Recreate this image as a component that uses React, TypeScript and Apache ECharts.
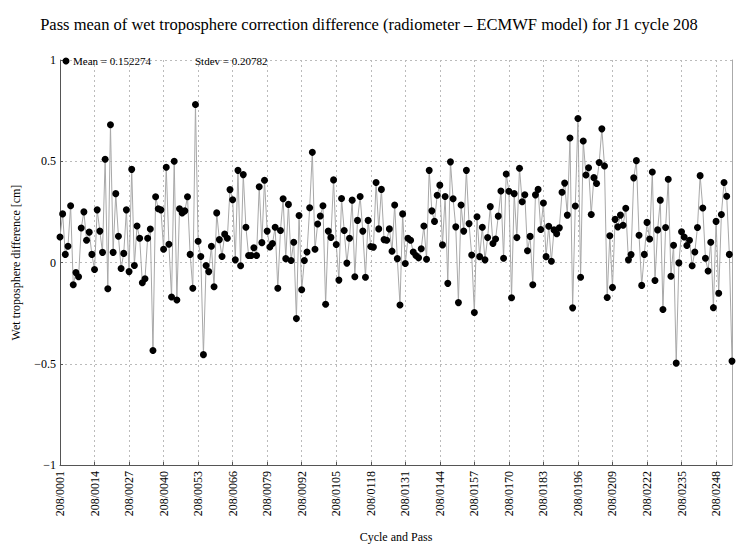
import React, { useEffect, useRef } from "react";
import * as echarts from "echarts";

const cycle = "208";
const passNumbers: number[] = Array.from({ length: 254 }, (_, i) => i + 1);
const categories: string[] = passNumbers.map((p) => `${cycle}/${String(p).padStart(4, "0")}`);

const values: number[] = [
  0.126, 0.24, 0.04, 0.08, 0.28, -0.11, -0.05, -0.07, 0.17, 0.25,
  0.11, 0.15, 0.04, -0.035, 0.26, 0.155, 0.05, 0.51, -0.13, 0.68,
  0.05, 0.34, 0.13, -0.03, 0.045, 0.26, -0.045, 0.46, -0.015, 0.18,
  0.12, -0.1, -0.08, 0.12, 0.165, -0.435, 0.325, 0.265, 0.26, 0.065,
  0.47, 0.09, -0.17, 0.5, -0.185, 0.265, 0.245, 0.255, 0.325, 0.04,
  -0.127, 0.78, 0.105, 0.03, -0.455, -0.015, -0.045, 0.08, -0.12, 0.245,
  0.113, 0.03, 0.14, 0.12, 0.36, 0.31, 0.013, 0.455, -0.016, 0.434,
  0.174, 0.035, 0.035, 0.073, 0.035, 0.374, 0.098, 0.406, 0.155, 0.077,
  0.094, 0.174, -0.127, 0.158, 0.315, 0.019, 0.287, 0.01, 0.1, -0.277,
  0.232, -0.135, 0.01, 0.052, 0.27, 0.544, 0.065, 0.19, 0.23, 0.28,
  -0.206, 0.155, 0.124, 0.408, 0.089, -0.087, 0.316, 0.158, -0.003, 0.12,
  0.308, -0.07, 0.208, 0.326, 0.155, -0.073, 0.208, 0.079, 0.076, 0.395,
  0.166, 0.361, 0.113, 0.11, 0.166, 0.056, 0.284, 0.019, -0.21, 0.24,
  -0.005, 0.12, 0.11, 0.052, 0.035, 0.023, 0.068, 0.18, 0.016, 0.455,
  0.255, 0.203, 0.332, 0.382, 0.087, 0.326, -0.103, 0.497, 0.315, 0.176,
  -0.198, 0.284, 0.155, 0.455, 0.192, 0.037, -0.247, 0.226, 0.029, 0.174,
  0.013, 0.123, 0.276, 0.094, 0.116, 0.229, 0.353, 0.021, 0.437, 0.352,
  -0.174, 0.34, 0.123, 0.465, 0.3, 0.335, 0.058, 0.129, -0.11, 0.334,
  0.361, 0.163, 0.294, 0.029, 0.179, 0.006, 0.161, 0.142, 0.171, 0.347,
  0.392, 0.234, 0.615, -0.224, 0.279, 0.711, -0.073, 0.6, 0.432, 0.468,
  0.237, 0.419, 0.39, 0.494, 0.66, 0.477, -0.173, 0.132, -0.123, 0.213,
  0.176, 0.234, 0.184, 0.268, 0.013, 0.039, 0.418, 0.503, 0.135, -0.113,
  0.04, 0.198, 0.116, 0.447, -0.089, 0.161, 0.308, -0.232, 0.173, 0.411,
  -0.068, 0.085, -0.497, -0.002, 0.152, 0.126, 0.084, 0.11, -0.016, 0.052,
  0.173, 0.429, 0.269, 0.021, -0.042, 0.1, -0.223, 0.203, -0.152, 0.237,
  0.395, 0.327, 0.04, -0.487,
];

const yTicks: number[] = [-1, -0.5, 0, 0.5, 1];
const meanValue = "0.152274";
const stdevValue = "0.20782";

const titleText =
  "Pass mean of wet troposphere correction difference (radiometer \u2013 ECMWF model) for J1 cycle 208";

const serif = "'Liberation Serif', 'Times New Roman', serif";

export default function App() {
  const ref = useRef<HTMLDivElement>(null);
  useEffect(() => {
    if (!ref.current) return;
    const chart = echarts.init(ref.current, undefined, { renderer: "svg" });
    const option: any = {
      animation: false,
      backgroundColor: "#ffffff",
      textStyle: { fontFamily: serif },
      title: {
        text: titleText,
        left: "center",
        top: 11,
        textStyle: { fontFamily: serif, fontSize: 16.5, fontWeight: "normal", color: "#000" },
      },
      grid: {
        left: 60,
        right: 6,
        top: 60,
        bottom: 82,
        containLabel: false,
        outerBoundsMode: "none",
      },
      xAxis: {
        type: "category",
        data: categories,
        boundaryGap: false,
        name: "Cycle and Pass",
        nameLocation: "middle",
        nameGap: 66,
        nameTextStyle: { fontFamily: serif, fontSize: 12, color: "#000" },
        axisLine: { show: true, onZero: false, lineStyle: { color: "#555", width: 1 } },
        axisTick: { show: true, interval: 12, inside: true, length: 3, lineStyle: { color: "#555" } },
        axisLabel: {
          interval: 12,
          rotate: 90,
          fontFamily: serif,
          fontSize: 12,
          color: "#000",
          margin: 6,
        },
        splitLine: {
          show: true,
          interval: 12,
          lineStyle: { color: "#bbb", type: [2, 3], width: 1 },
        },
      },
      yAxis: [
        {
          type: "value",
          min: yTicks[0],
          max: yTicks[yTicks.length - 1],
          interval: 0.5,
          name: "Wet troposphere difference [cm]",
          nameLocation: "middle",
          nameGap: 38,
          nameTextStyle: { fontFamily: serif, fontSize: 12, color: "#000" },
          axisLine: { show: true, lineStyle: { color: "#555", width: 1 } },
          axisTick: { show: true, inside: true, length: 3, lineStyle: { color: "#555" } },
          axisLabel: {
            fontFamily: serif,
            fontSize: 12,
            color: "#000",
            margin: 4,
            formatter: (v: number) => String(v).replace("-", "\u2212"),
          },
          splitLine: { show: true, lineStyle: { color: "#bbb", type: [2, 3], width: 1 } },
        },
        {
          type: "value",
          position: "right",
          min: yTicks[0],
          max: yTicks[yTicks.length - 1],
          interval: 0.5,
          axisLine: { show: true, lineStyle: { color: "#aaa", width: 1 } },
          axisTick: { show: false },
          axisLabel: { show: false },
          splitLine: { show: false },
        },
      ],
      series: [
        {
          type: "line",
          data: values,
          yAxisIndex: 0,
          symbol: "circle",
          symbolSize: 7,
          showAllSymbol: true,
          itemStyle: { color: "#000" },
          lineStyle: { color: "#a8a8a8", width: 1 },
          emphasis: { disabled: true },
        },
      ],
      graphic: [
        { type: "circle", shape: { cx: 66, cy: 61, r: 3.5 }, style: { fill: "#000" }, z: 100 },
        {
          type: "text",
          x: 73,
          y: 61,
          z: 100,
          style: {
            text: `Mean = ${meanValue}`,
            fontFamily: serif,
            fontSize: 11,
            fill: "#000",
            verticalAlign: "middle",
          },
        },
        {
          type: "text",
          x: 195,
          y: 61,
          z: 100,
          style: {
            text: `Stdev = ${stdevValue}`,
            fontFamily: serif,
            fontSize: 11,
            fill: "#000",
            verticalAlign: "middle",
          },
        },
      ],
    };
    chart.setOption(option);
    return () => chart.dispose();
  }, []);
  return (
    <div
      ref={ref}
      style={{ position: "fixed", left: 0, top: 0, width: 738, height: 547, background: "#fff" }}
    />
  );
}
